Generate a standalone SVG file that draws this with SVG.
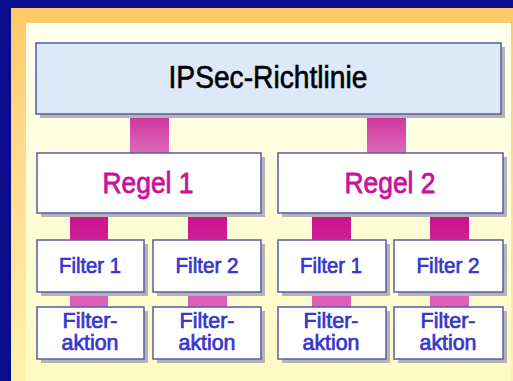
<svg xmlns="http://www.w3.org/2000/svg" width="513" height="381" viewBox="0 0 513 381">
<defs>
<linearGradient id="frameG" x1="0" y1="0" x2="0" y2="1">
<stop offset="0" stop-color="#ffc966"/>
<stop offset="0.35" stop-color="#fed98a"/>
<stop offset="1" stop-color="#fdf2ad"/>
</linearGradient>
<linearGradient id="innerG" x1="0" y1="0" x2="0" y2="1">
<stop offset="0" stop-color="#ffffee"/>
<stop offset="1" stop-color="#fcfbc2"/>
</linearGradient>
<linearGradient id="topLink" x1="0" y1="0" x2="0" y2="1">
<stop offset="0" stop-color="#cc3399"/>
<stop offset="1" stop-color="#e068bb"/>
</linearGradient>
<linearGradient id="midLink" x1="0" y1="0" x2="0" y2="1">
<stop offset="0" stop-color="#cc1188"/>
<stop offset="1" stop-color="#cc2299"/>
</linearGradient>
<linearGradient id="botLink" x1="0" y1="0" x2="0" y2="1">
<stop offset="0" stop-color="#dd5cb4"/>
<stop offset="1" stop-color="#dd60b6"/>
</linearGradient>
</defs>
<style>
.box{fill:#ffffff;stroke:#5a5aaa;stroke-width:1.5}
.shadow{fill:#b4b4b4}
.t{font-family:"Liberation Sans",Arial,sans-serif;text-anchor:middle}
.blue{fill:#3636cc;stroke:#3636cc;stroke-width:0.7px;font-size:21.5px}
.mag{fill:#cc1199;stroke:#cc1199;stroke-width:0.8px;font-size:30px}
.blk{fill:#000000;stroke:#000000;stroke-width:0.6px;font-size:31px}
</style>
<rect x="0" y="0" width="513" height="381" fill="#0b0b8e"/>
<rect x="11" y="8" width="502" height="373" fill="url(#frameG)"/>
<rect x="26" y="23" width="485" height="358" fill="url(#innerG)"/>

<g id="connectors">
<rect x="130" y="114" width="39" height="39" fill="url(#topLink)"/>
<rect x="367" y="114" width="39" height="39" fill="url(#topLink)"/>
<rect x="70" y="213" width="38" height="27" fill="url(#midLink)"/>
<rect x="188" y="213" width="39" height="27" fill="url(#midLink)"/>
<rect x="312" y="213" width="39" height="27" fill="url(#midLink)"/>
<rect x="430" y="213" width="39" height="27" fill="url(#midLink)"/>
<rect x="70" y="292" width="38" height="15" fill="url(#botLink)"/>
<rect x="188" y="292" width="39" height="15" fill="url(#botLink)"/>
<rect x="312" y="292" width="39" height="15" fill="url(#botLink)"/>
<rect x="430" y="292" width="39" height="15" fill="url(#botLink)"/>
</g>

<g id="policy">
<rect class="shadow" x="40" y="47" width="465" height="71"/>
<rect class="box" x="36" y="43" width="465" height="71" style="fill:#dde8f8"/>
<text class="t blk" x="268" y="88" textLength="199" lengthAdjust="spacingAndGlyphs">IPSec-Richtlinie</text>
</g>

<g id="rule1">
<rect class="shadow" x="41" y="157" width="224" height="60"/>
<rect class="box" x="37" y="153" width="224" height="60"/>
<text class="t mag" x="148" y="193" textLength="91" lengthAdjust="spacingAndGlyphs">Regel 1</text>
</g>
<g id="rule2">
<rect class="shadow" x="282" y="157" width="225" height="60"/>
<rect class="box" x="278" y="153" width="225" height="60"/>
<text class="t mag" x="390" y="193" textLength="91" lengthAdjust="spacingAndGlyphs">Regel 2</text>
</g>

<g id="filter1a">
<rect class="shadow" x="41" y="244" width="107" height="52"/>
<rect class="box" x="37" y="240" width="107" height="52"/>
<text class="t blue" x="90" y="273" textLength="62" lengthAdjust="spacingAndGlyphs">Filter 1</text>
</g>
<g id="filter2a">
<rect class="shadow" x="157" y="244" width="108" height="52"/>
<rect class="box" x="153" y="240" width="108" height="52"/>
<text class="t blue" x="207" y="273" textLength="63" lengthAdjust="spacingAndGlyphs">Filter 2</text>
</g>
<g id="filter1b">
<rect class="shadow" x="282" y="244" width="108" height="52"/>
<rect class="box" x="278" y="240" width="108" height="52"/>
<text class="t blue" x="331" y="273" textLength="62" lengthAdjust="spacingAndGlyphs">Filter 1</text>
</g>
<g id="filter2b">
<rect class="shadow" x="398" y="244" width="109" height="52"/>
<rect class="box" x="394" y="240" width="109" height="52"/>
<text class="t blue" x="448" y="273" textLength="63" lengthAdjust="spacingAndGlyphs">Filter 2</text>
</g>

<g id="action1a">
<rect class="shadow" x="41" y="311" width="107" height="52"/>
<rect class="box" x="37" y="307" width="107" height="52"/>
<text class="t blue" x="90" y="328" textLength="55" lengthAdjust="spacingAndGlyphs">Filter-</text>
<text class="t blue" x="90" y="350" textLength="57" lengthAdjust="spacingAndGlyphs">aktion</text>
</g>
<g id="action2a">
<rect class="shadow" x="157" y="311" width="108" height="52"/>
<rect class="box" x="153" y="307" width="108" height="52"/>
<text class="t blue" x="207" y="328" textLength="55" lengthAdjust="spacingAndGlyphs">Filter-</text>
<text class="t blue" x="207" y="350" textLength="57" lengthAdjust="spacingAndGlyphs">aktion</text>
</g>
<g id="action1b">
<rect class="shadow" x="282" y="311" width="108" height="52"/>
<rect class="box" x="278" y="307" width="108" height="52"/>
<text class="t blue" x="331" y="328" textLength="55" lengthAdjust="spacingAndGlyphs">Filter-</text>
<text class="t blue" x="331" y="350" textLength="57" lengthAdjust="spacingAndGlyphs">aktion</text>
</g>
<g id="action2b">
<rect class="shadow" x="398" y="311" width="109" height="52"/>
<rect class="box" x="394" y="307" width="109" height="52"/>
<text class="t blue" x="448" y="328" textLength="55" lengthAdjust="spacingAndGlyphs">Filter-</text>
<text class="t blue" x="448" y="350" textLength="57" lengthAdjust="spacingAndGlyphs">aktion</text>
</g>
</svg>
